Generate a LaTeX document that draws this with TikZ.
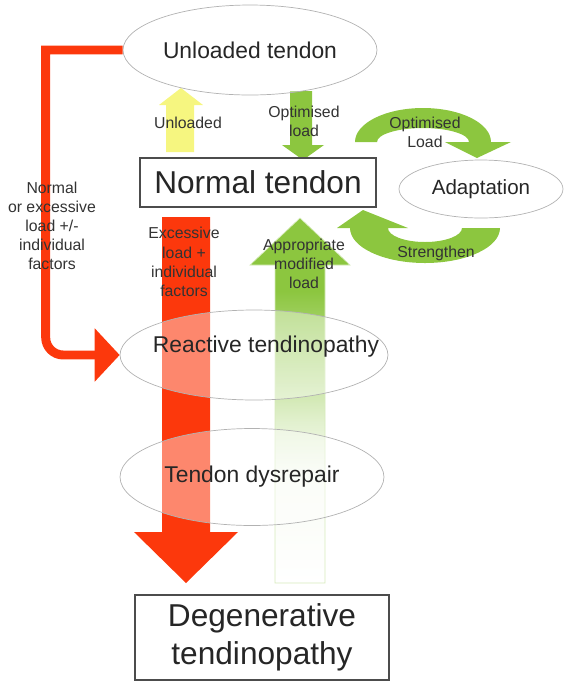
\documentclass[tikz,border=0pt]{standalone}
\usepackage{fontspec}
\setmainfont{Liberation Sans}
\usetikzlibrary{shapes.geometric,arrows.meta,calc}
\definecolor{tgreen}{RGB}{140,198,63}
\definecolor{tred}{RGB}{252,56,12}
\definecolor{tyellow}{RGB}{246,246,128}
\definecolor{tgray}{RGB}{51,51,51}
\pgfdeclareverticalshading{greenfade}{100bp}{color(0bp)=(white); color(25bp)=(white);
  color(40bp)=(tgreen!6); color(47bp)=(tgreen!25); color(57bp)=(tgreen!65); color(65bp)=(tgreen); color(100bp)=(tgreen)}

\tikzset{
  stage/.style={ellipse, draw=gray!60, line width=0.4pt, fill=white, fill opacity=0.4, text opacity=1,
    inner sep=0pt, text=black!85, font=\fontsize{13}{15}\selectfont},
  tbox/.style={rectangle, draw=black!70, line width=0.8pt, fill=white, inner sep=0pt, align=center,
    text=black!85, font=\fontsize{18}{21.6}\selectfont},
  lbl/.style={align=center, text=tgray, inner sep=0pt, font=\fontsize{9}{10.9}\selectfont},
}

\begin{document}
\begin{tikzpicture}[x=0.02cm,y=-0.02cm]
	\useasboundingbox (0,0) rectangle (566,681);
	
	% block arrows
	\fill[tred] (162,217) -- (210,217) -- (210,532) -- (238,532) -- (186,583) -- (134,532) -- (162,532) -- cycle;
	\shadedraw[shading=greenfade, draw=tgreen!35, line width=0.4pt]
		(275,583) -- (275,265) -- (250,265) -- (300,218) -- (350,265) -- (325,265) -- (325,583) -- cycle;
	\fill[tyellow] (166,152) -- (166,105) -- (159,105) -- (181,88) -- (203,105) -- (194,105) -- (194,152) -- cycle;
	\fill[tgreen] (290,91) -- (312,91) -- (312,145) -- (324,145) -- (303,160) -- (282,145) -- (290,145) -- cycle;
	
	% curved arrows
	\fill[tgreen] (355,142) arc[start angle=180, end angle=360, x radius=68, y radius=34] -- (511,142)
		-- (477,158) -- (445,142) -- (469,142) arc[start angle=0, end angle=-180, x radius=46, y radius=14] -- cycle;
	\fill[tgreen] (350,228) arc[start angle=180, end angle=0, x radius=75, y radius=35] -- (462,228)
		arc[start angle=0, end angle=180, x radius=37, y radius=14] -- (408,228) -- (363,210) -- (337,228) -- cycle;
	
	% stages
	\node[stage, minimum width=5.08cm, minimum height=1.8cm] (unl) at (250,50) {Unloaded tendon};
	\node[stage, minimum width=5.36cm, minimum height=1.8cm] (react) at (254,355) {};
	\node[stage, minimum width=5.28cm, minimum height=1.94cm] (dysr) at (252,477) {Tendon dysrepair};
	\node[stage, minimum width=3.28cm, minimum height=1.16cm, font=\fontsize{11.7}{14}\selectfont] (adapt) at (481,189) {Adaptation};
	\node[lbl, text=black!85, font=\fontsize{13}{15}\selectfont] (reacttxt) at (266,347) {Reactive tendinopathy};
	
	\node[tbox, minimum width=4.72cm, minimum height=0.98cm] (normal) at (258,182.5) {Normal tendon};
	\node[tbox, minimum width=5.08cm, minimum height=1.7cm] (degen) at (262,637.5) {Degenerative\\tendinopathy};
	
	\draw[tred, line width=5.1pt, -{Triangle[length=0.5cm,width=1.04cm]}]
		(unl.west) -- ++(-77,0) [rounded corners=10pt] |- (react.west);
	
	% labels
	\node[lbl] (loadtxt) at (52,226) {Normal\\or excessive\\load +/-\\individual\\factors};
	\node[lbl] (exctxt) at (184,262) {Excessive\\load +\\individual\\factors};
	\node[lbl] (apptxt) at (304,264) {Appropriate\\modified\\load};
	\node[lbl] (unltxt) at (188,123) {Unloaded};
	\node[lbl] (opttxt) at (304,121) {Optimised\\load};
	\node[lbl] (optltxt) at (425,132) {Optimised\\Load};
	\node[lbl] (strtxt) at (436,253) {Strengthen};
\end{tikzpicture}
\end{document}
